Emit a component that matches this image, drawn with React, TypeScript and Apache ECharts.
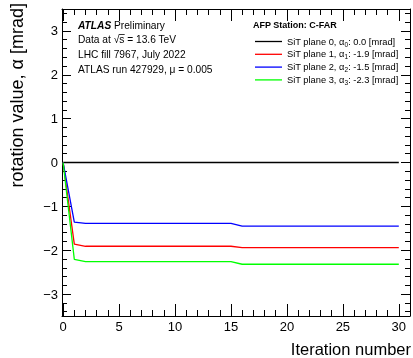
import React, { useEffect, useRef } from "react";
import * as echarts from "echarts";

const iterations = [0, 1, 2, 3, 4, 5, 6, 7, 8, 9, 10, 11, 12, 13, 14, 15, 16, 17, 18, 19, 20, 21, 22, 23, 24, 25, 26, 27, 28, 29, 30];
const plane0 = [0, 0, 0, 0, 0, 0, 0, 0, 0, 0, 0, 0, 0, 0, 0, 0, 0, 0, 0, 0, 0, 0, 0, 0, 0, 0, 0, 0, 0, 0, 0];
const plane1 = [0, -1.86, -1.91, -1.91, -1.91, -1.91, -1.91, -1.91, -1.91, -1.91, -1.91, -1.91, -1.91, -1.91, -1.91, -1.91, -1.94, -1.94, -1.94, -1.94, -1.94, -1.94, -1.94, -1.94, -1.94, -1.94, -1.94, -1.94, -1.94, -1.94, -1.94];
const plane2 = [0, -1.36, -1.39, -1.39, -1.39, -1.39, -1.39, -1.39, -1.39, -1.39, -1.39, -1.39, -1.39, -1.39, -1.39, -1.39, -1.45, -1.45, -1.45, -1.45, -1.45, -1.45, -1.45, -1.45, -1.45, -1.45, -1.45, -1.45, -1.45, -1.45, -1.45];
const plane3 = [0, -2.21, -2.26, -2.26, -2.26, -2.26, -2.26, -2.26, -2.26, -2.26, -2.26, -2.26, -2.26, -2.26, -2.26, -2.26, -2.32, -2.32, -2.32, -2.32, -2.32, -2.32, -2.32, -2.32, -2.32, -2.32, -2.32, -2.32, -2.32, -2.32, -2.32];

const seriesNames = ["SiT plane 0", "SiT plane 1", "SiT plane 2", "SiT plane 3"];
const seriesColors = ["#000000", "#ff0000", "#0000ff", "#00ff00"];
const planeIndex = ["0", "1", "2", "3"];
const meanAlpha = ["0.0", "-1.9", "-1.5", "-2.3"];

const xMajorTicks = [0, 5, 10, 15, 20, 25, 30];
const xMinorTicks = [0, 1, 2, 3, 4, 5, 6, 7, 8, 9, 10, 11, 12, 13, 14, 15, 16, 17, 18, 19, 20, 21, 22, 23, 24, 25, 26, 27, 28, 29, 30, 31];
const yMajorTicks = [-3, -2, -1, 0, 1, 2, 3];
const yMinorTicks = [-3.4, -3.2, -3, -2.8, -2.6, -2.4, -2.2, -2, -1.8, -1.6, -1.4, -1.2, -1, -0.8, -0.6, -0.4, -0.2, 0, 0.2, 0.4, 0.6, 0.8, 1, 1.2, 1.4, 1.6, 1.8, 2, 2.2, 2.4, 2.6, 2.8, 3, 3.2, 3.4];

const atlasLines = ["Data at \u221As = 13.6 TeV", "LHC fill 7967, July 2022", "ATLAS run 427929, \u03bc = 0.005"];
const legendTitle = "AFP Station: C-FAR";
const xTitle = "Iteration number";
const yTitle = "rotation value, \u03b1 [mrad]";

const FONT = "'Liberation Sans', Arial, Helvetica, sans-serif";

export default function App() {
  const ref = useRef<HTMLDivElement>(null);
  useEffect(() => {
    document.body.style.margin = "0";
    const chart = echarts.init(ref.current!, null, { renderer: "svg" });
    const X_MIN = -0.1;
    const X_MAX = 31;
    const Y_MIN = -3.5;
    const Y_MAX = 3.5;
    const black = { color: "#000", width: 1 };

    const xAxisDef = (position: string, ticks: number[], len: number, major: boolean) => ({
      type: "value",
      min: X_MIN,
      max: X_MAX,
      position,
      axisLine: { show: major, lineStyle: black, onZero: false },
      axisTick: { show: true, inside: true, length: len, customValues: ticks, lineStyle: black },
      axisLabel: {
        show: major && position === "bottom",
        customValues: xMajorTicks,
        fontSize: 13,
        color: "#000",
        fontFamily: FONT,
        margin: 4,
      },
      splitLine: { show: false },
    });
    const yAxisDef = (position: string, ticks: number[], len: number, major: boolean) => ({
      type: "value",
      min: Y_MIN,
      max: Y_MAX,
      position,
      axisLine: { show: major, lineStyle: black, onZero: false },
      axisTick: { show: true, inside: true, length: len, customValues: ticks, lineStyle: black },
      axisLabel: {
        show: major && position === "left",
        customValues: yMajorTicks,
        fontSize: 13,
        color: "#000",
        fontFamily: FONT,
        margin: 4,
        formatter: (v: number) => (v < 0 ? "\u2212" + Math.abs(v) : String(v)),
      },
      splitLine: { show: false },
    });

    const dataSets = [plane0, plane1, plane2, plane3];
    const series = dataSets.map((vals, i) => ({
      type: "line",
      name: seriesNames[i],
      xAxisIndex: 0,
      yAxisIndex: 0,
      data: iterations.map((it, k) => [it, vals[k]]),
      showSymbol: false,
      symbol: "none",
      lineStyle: { color: seriesColors[i], width: 1.3 },
      itemStyle: { color: seriesColors[i] },
      z: 3 + (i === 0 ? 0 : 1),
    }));

    const legendX0 = 255;
    const legendX1 = 282;
    const legendTextX = 287;
    const legendY0 = 41.5;
    const legendDy = 12.8;
    const legendGraphics: any[] = [];
    seriesNames.forEach((name, i) => {
      const y = legendY0 + i * legendDy;
      legendGraphics.push({
        type: "line",
        shape: { x1: legendX0, y1: y, x2: legendX1, y2: y },
        style: { stroke: seriesColors[i], lineWidth: 1.3 },
      });
      legendGraphics.push({
        type: "text",
        x: legendTextX,
        y,
        style: {
          text: `${name}, \u03b1{s|${planeIndex[i]}}: ${meanAlpha[i]} [mrad]`,
          fontSize: 9.3,
          fontFamily: FONT,
          fill: "#000",
          verticalAlign: "middle",
          rich: {
            s: { fontSize: 6.5, fontFamily: FONT, fill: "#000", padding: [5, 0, 0, 0] },
          },
        },
      });
    });

    const atlasY0 = 25;
    const atlasDy = 14.7;
    const atlasX = 78;
    const FS = 10.2;
    const probe = echarts.format.getTextRect
      ? null
      : null;
    void probe;
    // overline over "s" of sqrt(s)
    const ctx = document.createElement("canvas").getContext("2d")!;
    ctx.font = `${FS}px ${FONT}`;
    const sStart = atlasX + ctx.measureText("Data at \u221A").width;
    const sEnd = atlasX + ctx.measureText("Data at \u221As").width;
    const sqrtY = atlasY0 + atlasDy;

    chart.setOption({
      animation: false,
      grid: { left: 62, right: 3, top: 9, bottom: 42 },
      xAxis: [
        xAxisDef("bottom", xMajorTicks, 12, true),
        xAxisDef("bottom", xMinorTicks, 6, false),
        xAxisDef("top", xMajorTicks, 12, true),
        xAxisDef("top", xMinorTicks, 6, false),
      ],
      yAxis: [
        yAxisDef("left", yMajorTicks, 9, true),
        yAxisDef("left", yMinorTicks, 5, false),
        yAxisDef("right", yMajorTicks, 9, true),
        yAxisDef("right", yMinorTicks, 5, false),
      ],
      series,
      graphic: [
        {
          type: "text",
          x: atlasX,
          y: atlasY0,
          style: {
            text: "{b|ATLAS} Preliminary",
            fontSize: FS,
            fontFamily: FONT,
            fill: "#000",
            verticalAlign: "middle",
            rich: { b: { fontSize: FS, fontFamily: FONT, fontWeight: "bold", fontStyle: "italic", fill: "#000" } },
          },
        },
        ...atlasLines.map((t, i) => ({
          type: "text",
          x: atlasX,
          y: atlasY0 + (i + 1) * atlasDy,
          style: { text: t, fontSize: FS, fontFamily: FONT, fill: "#000", verticalAlign: "middle" },
        })),
        {
          type: "line",
          shape: { x1: sStart - 0.5, y1: sqrtY - 5.2, x2: sEnd + 0.3, y2: sqrtY - 5.2 },
          style: { stroke: "#000", lineWidth: 0.8 },
        },
        {
          type: "text",
          x: 253,
          y: 24.5,
          style: { text: legendTitle, fontSize: 9, fontWeight: "bold", fontFamily: FONT, fill: "#000", verticalAlign: "middle" },
        },
        ...legendGraphics,
        {
          type: "text",
          x: 411,
          y: 357.5,
          style: { text: xTitle, fontSize: 16.5, fontFamily: FONT, fill: "#000", align: "right", verticalAlign: "bottom" },
        },
        {
          type: "text",
          x: 17,
          y: 3,
          rotation: Math.PI / 2,
          style: { text: yTitle, fontSize: 18, fontFamily: FONT, fill: "#000", align: "right", verticalAlign: "middle" },
        },
      ],
    });
    return () => chart.dispose();
  }, []);
  return <div ref={ref} style={{ position: "fixed", left: 0, top: 0, width: 413, height: 358 }} />;
}
